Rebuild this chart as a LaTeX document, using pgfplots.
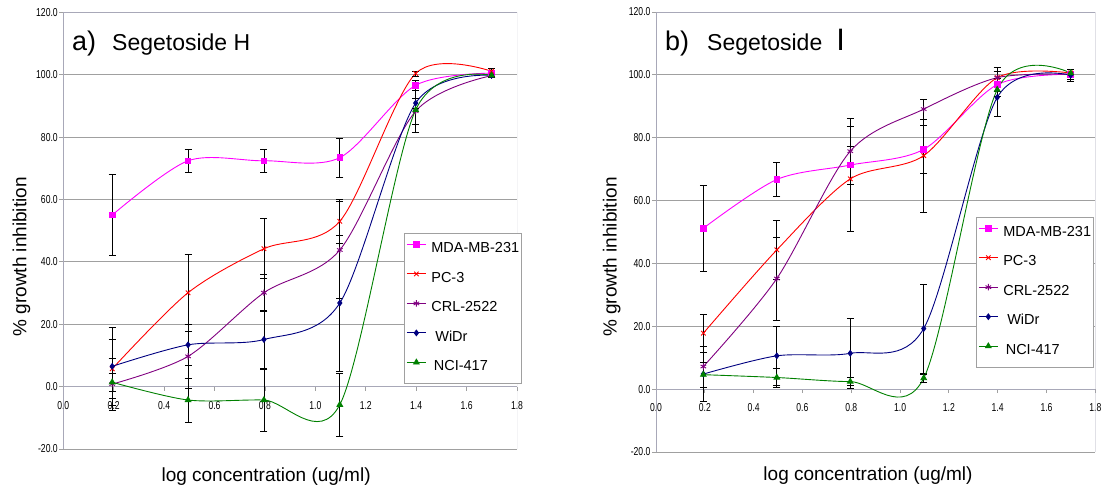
\documentclass[border=0pt]{standalone}
\usepackage{fontspec}
\setmainfont{Liberation Sans}
\newfontfamily\tickfont[FakeStretch=0.75]{Liberation Sans}
\usepackage{pgfplots}
\pgfplotsset{compat=1.18}

\definecolor{mdaColor}{RGB}{255,0,255}
\definecolor{pcColor}{RGB}{255,0,0}
\definecolor{crlColor}{RGB}{128,0,128}
\definecolor{widrColor}{RGB}{0,0,128}
\definecolor{nciColor}{RGB}{0,128,0}
\definecolor{gridGray}{RGB}{160,160,160}
\definecolor{axisGray}{RGB}{168,168,184}

\pgfplotsset{
  segetoside/.style={
    scale only axis,
    xmin=0, xmax=1.8, ymin=-20, ymax=120,
    xtick={0,0.2,0.4,0.6,0.8,1.0,1.2,1.4,1.6,1.8},
    ytick={-20,0,20,40,60,80,100,120},
    axis x line*=middle, axis y line*=left,
    hide obscured x ticks=false, hide obscured y ticks=false,
    axis line style={axisGray, line width=0.8pt},
    tick style={gridGray, line width=0.8pt},
    tick align=outside, major tick length=4pt,
    ymajorgrids, grid style={gridGray, line width=0.8pt},
    ticklabel style={font=\tickfont\fontsize{11.5}{12}\selectfont, text=black},
    xticklabel style={yshift=-7pt},
    yticklabel style={xshift=2pt},
    xticklabel={\pgfmathprintnumber[fixed,fixed zerofill,precision=1,assume math mode=true]{\tick}},
    yticklabel={\pgfmathprintnumber[fixed,fixed zerofill,precision=1,assume math mode=true]{\tick}},
    label style={font=\fontsize{19}{20}\selectfont},
    legend cell align=left,
    legend style={draw=gridGray, line width=0.8pt, fill=white, anchor=north west,
      inner xsep=2pt, inner ysep=1pt, row sep=0pt, column sep=5pt,
      font=\fontsize{14.5}{15}\selectfont,
      nodes={inner sep=0pt, text height=18pt, text depth=11.5pt}},
    legend image code/.code={\draw[mark repeat=2,mark phase=2,#1]
      plot coordinates {(0pt,5pt) (9.5pt,5pt) (19pt,5pt)};},
    every axis plot/.append style={line width=0.9pt, smooth, tension=0.5},
    error bars/y dir=both,
    error bars/y explicit,
    error bars/error bar style={black, line width=0.7pt, solid},
    error bars/error mark options={black, mark size=3.5pt, line width=0.7pt, rotate=90},
  },
  mda/.style={mdaColor, mark=square*, mark size=2.8pt, mark options={fill=mdaColor}},
  pc/.style={pcColor, mark=x, mark size=3.2pt},
  crl/.style={crlColor, mark=asterisk, mark size=3.2pt},
  widr/.style={widrColor, mark=diamond*, mark size=2.8pt, mark options={fill=widrColor}},
  nci/.style={nciColor, mark=triangle*, mark size=3.2pt, mark options={fill=nciColor}},
}

\begin{document}
\begin{tikzpicture}[x=1pt,y=1pt]

% ---- a) Segetoside H ----
\begin{axis}[segetoside,
  at={(63.3pt,43pt)}, anchor=south west,
  width=453.7pt, height=436.7pt,
  xlabel={log concentration (ug/ml)},
  ylabel={\% growth inhibition},
  xlabel style={at={(axis description cs:0.447,-0.0733)}, anchor=base},
  ylabel style={at={(axis description cs:-0.092,0.44)}, anchor=center, rotate=0},
  legend style={at={(rel axis cs:0.751,0.494)}},
  ]
  \draw[axisGray, line width=0.8pt] (rel axis cs:0,0) rectangle (rel axis cs:1,1);
  \addplot[mda] coordinates {
    (0.194,55.0) +- (0,13.0) (0.495,72.4) +- (0,3.6) (0.796,72.4) +- (0,3.6)
    (1.097,73.4) +- (0,6.3) (1.398,96.6) +- (0,1.5) (1.699,100.5) +- (0,1.0)};
  \addplot[pc] coordinates {
    (0.194,5.7) +- (0,9.4) (0.495,30.1) +- (0,12.3) (0.796,44.2) +- (0,9.6)
    (1.097,53.0) +- (0,7.0) (1.398,100.4) +- (0,0.8) (1.699,101.1) +- (0,0.8)};
  \addplot[crl] coordinates {
    (0.194,0.8) +- (0,8.3) (0.495,9.7) +- (0,10.3) (0.796,30.1) +- (0,6.0)
    (1.097,43.8) +- (0,15.6) (1.398,88.3) +- (0,4.2) (1.699,99.7) +- (0,0.6)};
  \addplot[widr] coordinates {
    (0.194,6.5) +- (0,12.4) (0.495,13.4) +- (0,6.7) (0.796,15.1) +- (0,9.5)
    (1.097,26.8) +- (0,21.8) (1.398,90.9) +- (0,1.6) (1.699,99.8) +- (0,0.5)};
  \addplot[nci] coordinates {
    (0.194,1.4) +- (0,3.0) (0.495,-4.3) +- (0,7.0) (0.796,-4.3) +- (0,10.0)
    (1.097,-5.8) +- (0,10.0) (1.398,88.7) +- (0,7.3) (1.699,99.8) +- (0,0.5)};
  \legend{MDA-MB-231,PC-3,CRL-2522,\hspace{4pt}WiDr,\hspace{2.5pt}NCI-417}
  \node[anchor=base west, inner sep=0pt] at (rel axis cs:0.0192,0.9114)
    {\fontsize{27}{27}\selectfont a)\hspace{16pt}\fontsize{23}{23}\selectfont Segetoside H};
\end{axis}

% ---- b) Segetoside I ----
\begin{axis}[segetoside,
  at={(656pt,40pt)}, anchor=south west,
  width=439.3pt, height=440pt,
  xlabel={log concentration (ug/ml)},
  ylabel={\% growth inhibition},
  xlabel style={at={(axis description cs:0.4826,-0.0659)}, anchor=base},
  ylabel style={at={(axis description cs:-0.101,0.443)}, anchor=center, rotate=0},
  legend style={at={(rel axis cs:0.7284,0.534)}},
  ]
  \draw[axisGray, line width=0.8pt] (rel axis cs:0,0) rectangle (rel axis cs:1,1);
  \addplot[mda] coordinates {
    (0.194,51.2) +- (0,13.7) (0.495,66.7) +- (0,5.4) (0.796,71.3) +- (0,6.0)
    (1.097,76.3) +- (0,7.6) (1.398,96.9) +- (0,2.0) (1.699,100.2) +- (0,1.5)};
  \addplot[pc] coordinates {
    (0.194,17.8) +- (0,6.0) (0.495,44.3) +- (0,9.5) (0.796,66.9) +- (0,16.6)
    (1.097,74.3) +- (0,18.0) (1.398,99.1) +- (0,3.2) (1.699,100.6) +- (0,1.0)};
  \addplot[crl] coordinates {
    (0.194,7.2) +- (0,6.5) (0.495,35.2) +- (0,13.2) (0.796,75.7) +- (0,10.4)
    (1.097,89.1) +- (0,3.2) (1.398,99.1) +- (0,2.0) (1.699,100.2) +- (0,1.5)};
  \addplot[widr] coordinates {
    (0.194,4.8) +- (0,8.7) (0.495,10.6) +- (0,9.4) (0.796,11.4) +- (0,11.0)
    (1.097,19.3) +- (0,14.2) (1.398,92.8) +- (0,6.0) (1.699,99.9) +- (0,2.0)};
  \addplot[nci] coordinates {
    (0.194,4.6) +- (0,4.0) (0.495,3.7) +- (0,3.0) (0.796,2.4) +- (0,1.2)
    (1.097,3.5) +- (0,1.3) (1.398,95.3) +- (0,2.0) (1.699,100.6) +- (0,1.0)};
  \legend{MDA-MB-231,PC-3,CRL-2522,\hspace{4pt}WiDr,\hspace{2.5pt}NCI-417}
  \node[anchor=base west, inner sep=0pt] at (rel axis cs:0.0205,0.9114)
    {\fontsize{27}{27}\selectfont b)\hspace{18pt}\fontsize{23}{23}\selectfont Segetoside\hspace{14pt}\fontsize{31}{31}\selectfont I};
\end{axis}

\pgfresetboundingbox
\path[use as bounding box] (0,0) rectangle (1107,492);
\end{tikzpicture}
\end{document}
